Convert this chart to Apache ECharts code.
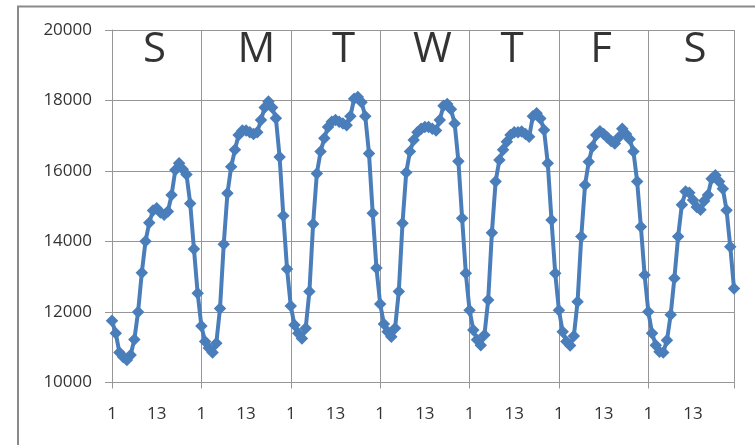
<!DOCTYPE html>
<html>
<head>
<meta charset="utf-8">
<script src="https://cdn.jsdelivr.net/npm/echarts@6/dist/echarts.min.js"></script>
<style>
  html, body { margin: 0; padding: 0; background: #ffffff; }
  #chart { width: 755px; height: 445px; }
</style>
</head>
<body>
<div id="chart"></div>
<script>
// Hourly load over one week, hours 1..24 for each day
const sunday    = [11750, 11400, 10850, 10720, 10640, 10780, 11220, 12000, 13110, 14010, 14530, 14880, 14940, 14820, 14760, 14850, 15320, 16030, 16220, 16050, 15900, 15080, 13790, 12530];
const monday    = [11600, 11160, 10980, 10850, 11110, 12100, 13920, 15370, 16120, 16600, 17020, 17150, 17150, 17100, 17050, 17100, 17450, 17800, 17970, 17800, 17500, 16400, 14730, 13220];
const tuesday   = [12170, 11630, 11400, 11250, 11540, 12580, 14500, 15930, 16550, 16930, 17250, 17400, 17450, 17400, 17350, 17300, 17550, 18050, 18100, 17950, 17550, 16500, 14800, 13250];
const wednesday = [12230, 11660, 11440, 11300, 11540, 12580, 14520, 15960, 16550, 16880, 17100, 17200, 17250, 17250, 17200, 17150, 17450, 17850, 17900, 17750, 17350, 16280, 14660, 13100];
const thursday  = [12050, 11490, 11210, 11060, 11350, 12340, 14250, 15700, 16310, 16600, 16830, 17020, 17100, 17100, 17120, 17050, 16970, 17550, 17640, 17490, 17160, 16220, 14610, 13100];
const friday    = [12050, 11440, 11160, 11050, 11320, 12290, 14140, 15600, 16260, 16690, 17020, 17130, 17050, 16950, 16850, 16780, 16950, 17200, 17050, 16900, 16550, 15700, 14420, 13050];
const saturday  = [12010, 11400, 11060, 10870, 10850, 11200, 11920, 12960, 14140, 15040, 15420, 15380, 15180, 14980, 14900, 15150, 15320, 15780, 15880, 15700, 15500, 14890, 13850, 12670];

const hourLabels = Array.from({ length: 24 }, (_, i) => String(i + 1));
const dayLetters = ['S', 'M', 'T', 'W', 'T', 'F', 'S'];

const yMin = 10000, yMax = 20000, yStep = 2000;

// where each day letter sits along the week (in hours from the first point)
const letterHour = [11.4, 38.8, 62.2, 86, 107.4, 131.3, 156.5];
const letterLevel = 19430;

const week = [sunday, monday, tuesday, wednesday, thursday, friday, saturday];
const load = [].concat(...week);
const categories = [].concat(...week.map(() => hourLabels));
const lastIdx = categories.length - 1;

const gridGray = '#969696';
const textFont = '"Open Sans", "DejaVu Sans", sans-serif';

const chart = echarts.init(document.getElementById('chart'), null, { renderer: 'canvas' });

chart.setOption({
  animation: false,
  backgroundColor: '#ffffff',
  graphic: [{
    type: 'rect',
    z: -10,
    silent: true,
    shape: { x: 18, y: 6.5, width: 780, height: 480 },
    style: { fill: 'none', stroke: '#8a8a8a', lineWidth: 2 }
  }],
  grid: { left: 112, top: 30, right: 21, bottom: 62.5, containLabel: false },
  xAxis: [{
    type: 'category',
    data: categories,
    boundaryGap: false,
    axisLine: { show: true, lineStyle: { color: gridGray, width: 1 } },
    axisTick: {
      show: true,
      length: 6,
      interval: (i) => i % 24 === 0 || i === lastIdx,
      lineStyle: { color: gridGray }
    },
    splitLine: {
      show: true,
      interval: (i) => i % 24 === 0 || i === lastIdx,
      lineStyle: { color: gridGray, width: 1 }
    },
    axisLabel: {
      interval: (i) => i % 12 === 0 && i !== lastIdx,
      margin: 23,
      fontFamily: textFont,
      fontSize: 17,
      color: '#333333'
    }
  }, {
    type: 'value',
    min: 0,
    max: lastIdx,
    show: false
  }],
  yAxis: {
    type: 'value',
    min: yMin,
    max: yMax,
    interval: yStep,
    axisLine: { show: true, lineStyle: { color: gridGray, width: 1 } },
    axisTick: { show: true, length: 7, lineStyle: { color: gridGray } },
    splitLine: { show: true, lineStyle: { color: gridGray, width: 1 } },
    axisLabel: {
      margin: 20,
      fontFamily: textFont,
      fontSize: 17,
      color: '#333333',
      formatter: (v) => String(v)
    }
  },
  series: [{
    type: 'line',
    data: load,
    xAxisIndex: 0,
    symbol: 'diamond',
    symbolSize: 12.5,
    showSymbol: true,
    showAllSymbol: true,
    lineStyle: { color: '#4a7ebb', width: 4 },
    itemStyle: { color: '#4a7ebb' },
    z: 5
  }, {
    type: 'scatter',
    xAxisIndex: 1,
    symbolSize: 0,
    silent: true,
    data: dayLetters.map((d, i) => ({ value: [letterHour[i], letterLevel], name: d })),
    label: {
      show: true,
      position: 'inside',
      formatter: (p) => p.name,
      fontFamily: textFont,
      fontSize: 42,
      color: '#000000',
      align: 'center',
      verticalAlign: 'middle'
    },
    z: 6
  }]
});
</script>
</body>
</html>
